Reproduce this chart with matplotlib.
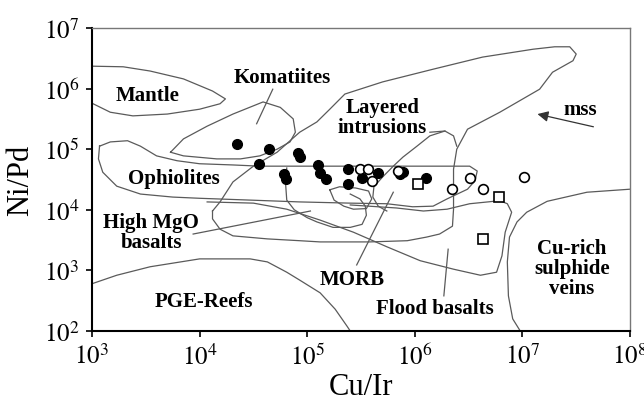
import numpy as np
import matplotlib
matplotlib.use("Agg")
import matplotlib.pyplot as plt

plt.rcParams['font.family'] = ['Liberation Serif', 'DejaVu Serif']
plt.rcParams['mathtext.fontset'] = 'stix'

# sample points (Cu/Ir, Ni/Pd)
filled_cu_ir = [2.23e4, 4.4e4, 8.2e4, 8.6e4, 3.56e4, 6.1e4, 6.35e4, 1.26e5, 1.31e5,
                1.5e5, 2.37e5, 2.37e5, 3.23e5, 4.55e5, 7.3e5, 7.8e5, 1.27e6]
filled_ni_pd = [1.22e5, 1.0e5, 8.6e4, 7.4e4, 5.7e4, 3.9e4, 3.2e4, 5.5e4, 4.05e4,
                3.2e4, 4.7e4, 2.67e4, 3.35e4, 4.05e4, 3.9e4, 4.2e4, 3.3e4]
open_cu_ir = [3.1e5, 3.7e5, 3.97e5, 7.0e5, 2.24e6, 3.26e6, 4.3e6, 1.03e7]
open_ni_pd = [4.7e4, 4.7e4, 3.0e4, 4.4e4, 2.24e4, 3.35e4, 2.24e4, 3.5e4]
square_cu_ir = [1.06e6, 6.07e6, 4.3e6]
square_ni_pd = [2.7e4, 1.6e4, 3.3e3]

# field outlines, as log10(Cu/Ir), log10(Ni/Pd)
mantle = ([3.00, 3.29, 3.54, 3.85, 4.12, 4.24, 4.19, 4.00, 3.70, 3.38, 3.17, 3.01],
          [6.37, 6.36, 6.29, 6.16, 5.96, 5.83, 5.75, 5.66, 5.58, 5.55, 5.61, 5.75])
komatiites = ([3.73, 3.85, 4.07, 4.31, 4.59, 4.75, 4.87, 4.89, 4.84, 4.72, 4.56, 4.38, 4.16, 3.85, 3.73],
              [4.95, 5.17, 5.38, 5.58, 5.78, 5.69, 5.50, 5.28, 5.12, 5.00, 4.89, 4.84, 4.84, 4.89, 4.95])
ophiolites = ([3.07, 3.17, 3.33, 3.45, 3.60, 3.79, 4.00, 4.31, 4.56, 6.51, 6.58, 6.56, 6.49, 6.30,
               6.17, 5.98, 5.74, 5.40, 4.93, 4.47, 4.00, 3.75, 3.45, 3.23, 3.10, 3.06, 3.07],
              [5.05, 5.12, 5.14, 5.05, 4.89, 4.81, 4.76, 4.74, 4.72, 4.72, 4.64, 4.48, 4.34, 4.18,
               4.06, 4.05, 4.10, 4.11, 4.13, 4.16, 4.19, 4.21, 4.26, 4.39, 4.62, 4.84, 5.05])
layered = ([4.12, 4.19, 4.31, 4.50, 4.72, 4.93, 5.09, 5.21, 5.35, 5.70, 6.17, 6.63, 7.10, 7.30,
            7.44, 7.50, 7.47, 7.28, 7.16, 6.79, 6.49, 6.39, 6.36, 6.36, 6.35, 6.23, 6.11, 5.93,
            5.58, 5.12, 4.93, 4.63, 4.31, 4.19, 4.12, 4.12],
           [3.98, 4.13, 4.46, 4.72, 4.95, 5.28, 5.45, 5.66, 5.91, 6.11, 6.32, 6.52, 6.65, 6.69,
            6.69, 6.57, 6.46, 6.27, 5.99, 5.61, 5.33, 5.00, 4.67, 4.01, 3.73, 3.60, 3.55, 3.49,
            3.47, 3.47, 3.49, 3.52, 3.57, 3.68, 3.85, 3.98])
layered_inner = ([6.14, 6.28, 6.36, 6.39],
                 [5.28, 5.30, 5.22, 5.05])
morb_outer = ([6.28, 6.14, 6.02, 5.89, 5.80, 5.70, 5.62, 5.61, 5.66, 5.74],
              [5.30, 5.22, 5.05, 4.87, 4.72, 4.54, 4.38, 4.21, 4.06, 3.98])
morb_small = ([5.21, 5.25, 5.34, 5.43, 5.55, 5.60, 5.57, 5.45, 5.30, 5.21],
              [4.33, 4.16, 4.06, 4.01, 4.02, 4.18, 4.31, 4.36, 4.38, 4.33])
mgo_loop = ([4.81, 4.80, 4.81, 4.88, 5.00, 5.09, 5.24, 5.40, 5.51, 5.55, 5.54, 5.49, 5.40],
            [4.69, 4.41, 4.16, 4.00, 3.87, 3.80, 3.71, 3.71, 3.76, 3.91, 4.06, 4.18, 4.26])
flood = ([4.07, 4.50, 4.81, 5.12, 5.43, 5.74, 6.05, 6.36, 6.61, 6.76, 6.81, 6.84, 6.90, 6.86,
          6.79, 6.51, 6.30, 6.08, 5.83, 5.40],
         [4.13, 4.11, 4.01, 3.83, 3.63, 3.39, 3.16, 3.02, 2.92, 2.97, 3.24, 3.63, 3.96, 4.10,
          4.15, 4.10, 4.01, 3.98, 4.03, 4.08])
pge_reefs = ([3.00, 3.23, 3.54, 4.00, 4.47, 4.63, 4.81, 4.93, 5.12, 5.26, 5.37, 5.40],
             [2.78, 2.92, 3.06, 3.19, 3.19, 3.14, 2.97, 2.84, 2.63, 2.36, 2.08, 2.00])
cu_rich = ([8.00, 7.60, 7.23, 7.04, 6.95, 6.88, 6.86, 6.87, 6.91, 6.98],
           [4.34, 4.29, 4.14, 3.96, 3.80, 3.55, 3.14, 2.58, 2.20, 2.00])

# leader lines
leaders = [([4.68, 4.53], [5.99, 5.42]),   # Komatiites
           ([3.94, 5.03], [3.60, 3.98]),   # High MgO basalts
           ([5.46, 5.80], [3.09, 4.29]),   # MORB
           ([6.27, 6.31], [2.58, 3.35])]   # Flood basalts

# field labels and their positions
label_texts = ['Mantle', 'Komatiites', 'Layered\nintrusions', 'mss', 'Ophiolites',
               'High MgO\nbasalts', 'MORB', 'PGE-Reefs', 'Flood basalts',
               'Cu-rich\nsulphide\nveins']
label_x = [3.52, 4.77, 5.70, 7.54, 3.76, 3.55, 5.42, 4.04, 6.19, 7.46]
label_y = [5.89, 6.19, 5.53, 5.66, 4.52, 3.63, 2.86, 2.50, 2.38, 3.04]

decades_x = [3, 4, 5, 6, 7, 8]
decades_y = [2, 3, 4, 5, 6, 7]

fig = plt.figure(figsize=(6.44, 4.10), dpi=100)
ax = fig.add_axes([92 / 644, 1 - 332 / 410, 538 / 644, 303 / 410])
ax.set_xscale('log')
ax.set_yscale('log')

outline = dict(color='#5a5a5a', lw=0.9)
for fx, fy in [mantle, komatiites, ophiolites, layered, layered_inner, morb_outer,
               morb_small, mgo_loop, flood, pge_reefs, cu_rich] + leaders:
    ax.plot(10.0 ** np.array(fx), 10.0 ** np.array(fy), **outline)

ax.plot(filled_cu_ir, filled_ni_pd, 'o', color='k', ms=7, zorder=3)
ax.plot(open_cu_ir, open_ni_pd, 'o', mfc='white', mec='k', mew=1.2, ms=7, zorder=4)
ax.plot(square_cu_ir, square_ni_pd, 's', mfc='white', mec='k', mew=1.2, ms=6.5, zorder=4)

for t, lx, ly in zip(label_texts, label_x, label_y):
    ax.text(10 ** lx, 10 ** ly, t, ha='center', va='center', fontsize=15,
            fontweight='bold', linespacing=1.0, zorder=5)

# mss arrow
ax.annotate('', xy=(10 ** 7.14, 10 ** 5.58), xytext=(10 ** 7.66, 10 ** 5.37),
            arrowprops=dict(arrowstyle='-|>', color='#333333', lw=0.9,
                            mutation_scale=16, shrinkA=0, shrinkB=0))

ax.set_xlim(1e3, 1e8)
ax.set_ylim(1e2, 1e7)
ax.set_xticks([10.0 ** e for e in decades_x])
ax.set_xticklabels([f'$10^{{{e}}}$' for e in decades_x])
ax.set_yticks([10.0 ** e for e in decades_y])
ax.set_yticklabels([f'$10^{{{e}}}$' for e in decades_y])
ax.minorticks_off()
ax.tick_params(direction='out', length=4, width=1.2, labelsize=18, pad=5)

for s in ['top', 'right']:
    ax.spines[s].set_color('#777777')
    ax.spines[s].set_linewidth(1.0)
for s in ['left', 'bottom']:
    ax.spines[s].set_color('k')
    ax.spines[s].set_linewidth(1.5)

ax.set_xlabel('Cu/Ir', fontsize=22, labelpad=2)
ax.set_ylabel('Ni/Pd', fontsize=22, labelpad=6)

fig.savefig('out.png', dpi=100)
